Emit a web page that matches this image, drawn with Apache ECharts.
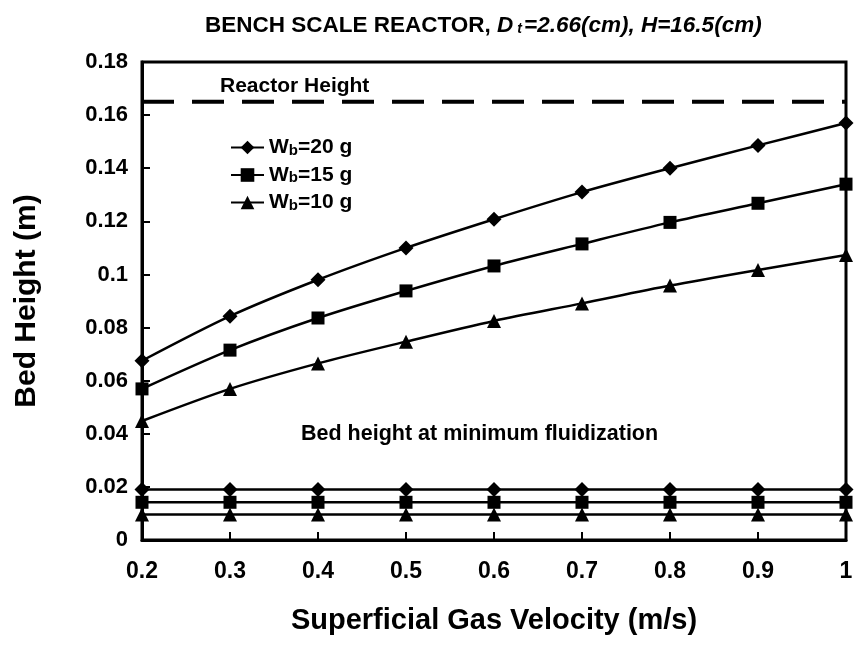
<!DOCTYPE html>
<html>
<head>
<meta charset="utf-8">
<script src="https://cdn.jsdelivr.net/npm/echarts@6/dist/echarts.min.js"></script>
<style>
  html, body { margin: 0; padding: 0; background: #fff; }
  #chart { width: 856px; height: 658px; }
</style>
</head>
<body>
<div id="chart"></div>
<script>
const velocidades = [0.2, 0.3, 0.4, 0.5, 0.6, 0.7, 0.8, 0.9, 1.0];
const altura20 = [0.0675, 0.0843, 0.098, 0.110, 0.1208, 0.1310, 0.140, 0.1486, 0.157];
const altura15 = [0.0569, 0.0715, 0.0836, 0.0938, 0.1032, 0.1115, 0.1196, 0.1268, 0.134];
const altura10 = [0.0448, 0.0569, 0.0665, 0.0747, 0.0825, 0.0891, 0.0958, 0.1017, 0.1073];
const minFluid20 = [0.019, 0.019, 0.019, 0.019, 0.019, 0.019, 0.019, 0.019, 0.019];
const minFluid15 = [0.0142, 0.0142, 0.0142, 0.0142, 0.0142, 0.0142, 0.0142, 0.0142, 0.0142];
const minFluid10 = [0.0096, 0.0096, 0.0096, 0.0096, 0.0096, 0.0096, 0.0096, 0.0096, 0.0096];
const alturaReactor = 0.165;
const nombres = ['Wb=20 g', 'Wb=15 g', 'Wb=10 g'];

const fuente = '"Liberation Sans", Arial, sans-serif';

const pares = (valores) => velocidades.map((v, i) => [v, valores[i]]);

const serieCurva = (nombre, valores, simbolo, tam) => ({
    name: nombre,
    type: 'line',
    data: pares(valores),
    smooth: 0.3,
    symbol: simbolo,
    symbolSize: tam,
    clip: false,
    lineStyle: { color: '#000', width: 2.5 },
    itemStyle: { color: '#000' },
    z: 3
});

const serieMinima = (valores, simbolo, tam) => ({
    type: 'line',
    data: pares(valores),
    symbol: simbolo,
    symbolSize: tam,
    clip: false,
    lineStyle: { color: '#000', width: 2.5 },
    itemStyle: { color: '#000' },
    z: 3
});

const chart = echarts.init(document.getElementById('chart'));

const opciones = {
    backgroundColor: '#fff',
    animation: false,
    title: {
        left: 200,
        top: 9,
        text: '{n|BENCH SCALE REACTOR, }{i|D}{s|t}{i|=2.66(cm), H=16.5(cm)}',
        textStyle: {
            rich: {
                n: { fontFamily: fuente, fontWeight: 'bold', fontSize: 22.5, color: '#000' },
                i: { fontFamily: fuente, fontWeight: 'bold', fontStyle: 'italic', fontSize: 22.5, color: '#000' },
                s: { fontFamily: fuente, fontWeight: 'bold', fontStyle: 'italic', fontSize: 14, color: '#000', padding: [8, 2, 0, 4] }
            }
        }
    },
    legend: {
        data: nombres,
        orient: 'vertical',
        left: 225,
        top: 132,
        itemGap: 6.5,
        itemWidth: 33,
        itemHeight: 17,
        formatter: (n) => '{w|W}{s|b}{w|' + n.slice(2) + '}',
        textStyle: {
            lineHeight: 20,
            rich: {
                w: { fontFamily: fuente, fontWeight: 'bold', fontSize: 21, color: '#000', lineHeight: 20 },
                s: { fontFamily: fuente, fontWeight: 'bold', fontSize: 15, color: '#000', lineHeight: 20, padding: [6, 0, 0, 0] }
            }
        }
    },
    grid: {
        left: 142,
        right: 10,
        top: 62,
        bottom: 118,
        outerBoundsMode: 'none',
        containLabel: false,
        show: true,
        borderColor: '#000',
        borderWidth: 3
    },
    xAxis: {
        type: 'value',
        min: 0.2,
        max: 1,
        interval: 0.1,
        name: 'Superficial Gas Velocity (m/s)',
        nameLocation: 'middle',
        nameGap: 66,
        nameTextStyle: { fontFamily: fuente, fontWeight: 'bold', fontSize: 29, color: '#000' },
        axisLine: { lineStyle: { color: '#000', width: 3 } },
        axisTick: { inside: true, length: 8, lineStyle: { color: '#000', width: 2 } },
        axisLabel: {
            margin: 20,
            fontFamily: fuente,
            fontWeight: 'bold',
            fontSize: 23,
            color: '#000',
            formatter: (v) => String(+v.toFixed(1))
        },
        splitLine: { show: false }
    },
    yAxis: {
        type: 'value',
        min: 0,
        max: 0.18,
        interval: 0.02,
        name: 'Bed Height (m)',
        nameLocation: 'middle',
        nameGap: 100,
        nameTextStyle: { fontFamily: fuente, fontWeight: 'bold', fontSize: 30, color: '#000' },
        axisLine: { lineStyle: { color: '#000', width: 3 } },
        axisTick: { inside: true, length: 8, lineStyle: { color: '#000', width: 2 } },
        axisLabel: {
            margin: 14,
            fontFamily: fuente,
            fontWeight: 'bold',
            fontSize: 22,
            color: '#000',
            formatter: (v) => String(+v.toFixed(2))
        },
        splitLine: { show: false }
    },
    graphic: [
        {
            type: 'text',
            left: 220,
            top: 76,
            style: { text: 'Reactor Height', font: 'bold 21px ' + fuente, fill: '#000' }
        },
        {
            type: 'text',
            left: 301,
            top: 423,
            style: { text: 'Bed height at minimum fluidization', font: 'bold 21.5px ' + fuente, fill: '#000' }
        }
    ],
    series: [
        {
            type: 'line',
            data: [[0.2, alturaReactor], [1, alturaReactor]],
            symbol: 'none',
            lineStyle: { color: '#000', width: 4, type: [32, 18] },
            z: 2
        },
        serieCurva(nombres[0], altura20, 'diamond', 15),
        serieCurva(nombres[1], altura15, 'rect', 13),
        serieCurva(nombres[2], altura10, 'triangle', 14),
        serieMinima(minFluid20, 'diamond', 15),
        serieMinima(minFluid15, 'rect', 13),
        serieMinima(minFluid10, 'triangle', 14)
    ]
};

chart.setOption(opciones);
</script>
</body>
</html>
